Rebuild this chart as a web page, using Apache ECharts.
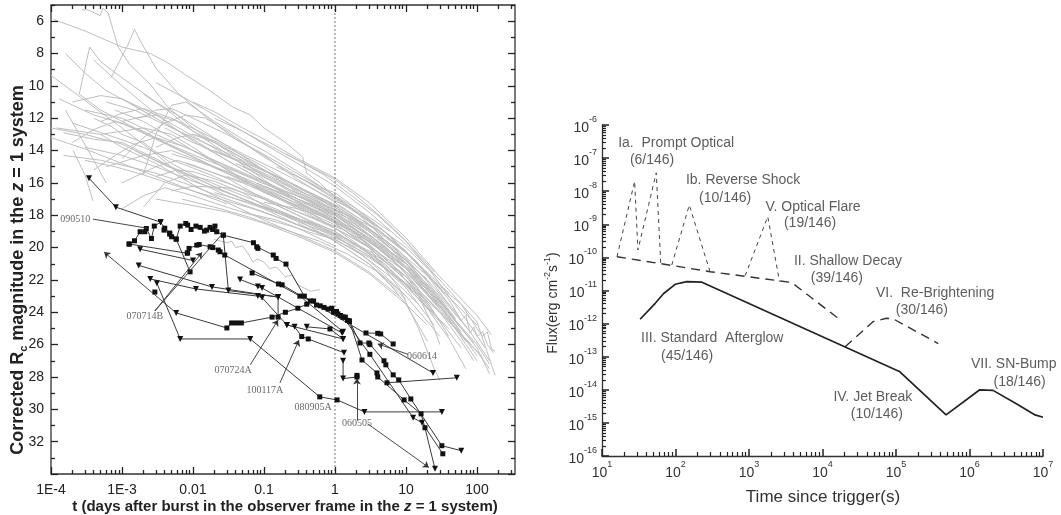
<!DOCTYPE html>
<html><head><meta charset="utf-8">
<script src="https://cdn.jsdelivr.net/npm/echarts@6/dist/echarts.min.js"></script>
<style>html,body{margin:0;padding:0;background:#fff}#c{width:1061px;height:515px}</style>
</head><body><div id="c"></div>
<script>
// ---------------- LEFT PANEL DATA (t in days, corrected Rc magnitude) ----------------
const leftXTickValues = [1e-4, 1e-3, 0.01, 0.1, 1, 10, 100];
const leftXTickLabels = ['1E-4', '1E-3', '0.01', '0.1', '1', '10', '100'];
const leftYTickValues = [5,6,7,8,9,10,11,12,13,14,15,16,17,18,19,20,21,22,23,24,25,26,27,28,29,30,31,32,33,34];
const leftYLabelValues = [6,8,10,12,14,16,18,20,22,24,26,28,30,32];
const minorMultipliers = [2,3,4,5,6,7,8,9];
const leftDecades = [1e-4,1e-3,0.01,0.1,1,10,100];
const dayMark = 1;

const grayCurves = [
 [[1e-4,9.35],[3e-4,10.9],[1e-3,12.6],[3e-3,14.2],[8e-3,15.8]],
 [[2.7e-4,5.3],[3.3e-4,5.3],[4.9e-4,5.65],[5.4e-4,5.2],[6.4e-4,5.5],[8.8e-4,7.6],[1.3e-3,8.7],[2.5e-3,9.9],[4.4e-3,11.3],[0.01,12.6],[0.03,14.0],[0.1,15.6],[0.3,16.8],[1,18.0],[3,19.5],[10,21.5],[30,23.8]],
 [[1.1e-4,5.9],[3e-4,6.6],[1e-3,7.6],[2.5e-3,8.0],[4.3e-3,8.55],[9.1e-3,9.5],[0.016,10.2],[0.027,10.9],[0.036,11.3],[0.064,11.8],[0.1,12.6],[0.2,13.5],[0.35,14.4],[0.4,15.4],[0.61,16.0],[1,16.9],[2,17.8],[5,19.5],[10,20.6],[30,22.4],[60,23.5],[100,25.0],[120,25.5],[140,25.2],[160,26.3],[180,26.4]],
 [[1.5e-4,12.9],[4e-4,13.3],[1e-3,13.5],[3e-3,14.5],[0.01,15.8],[0.03,16.8],[0.1,17.6],[0.3,18.6],[1,19.5],[3,20.6],[10,22.2],[30,24.0],[60,25.4],[120,26.8]],
 [[4e-4,8.4],[1e-3,10.0],[2e-3,11.1],[5e-3,12.5],[0.01,13.4],[0.03,14.6],[0.1,15.9],[0.3,17.0],[1,18.2],[3,19.6],[10,21.3],[30,23.4],[60,25.0]],
 [[7e-4,9.5],[1.2e-3,7.5],[1.5e-3,6.5],[1.8e-3,7.2],[3e-3,8.9],[6e-3,10.4],[0.015,11.9],[0.04,13.3],[0.1,14.3],[0.3,15.8],[1,17.2],[3,18.6],[10,20.3],[40,22.8]],
 [[2.5e-4,10.5],[3.5e-4,7.6],[5e-4,8.5],[1e-3,9.5],[3e-3,11.0],[0.01,12.4],[0.03,13.7],[0.1,15.2],[0.3,16.4],[1,17.7],[3,19.0],[10,20.8],[20,22.0]],
 [[1e-3,14.5],[2e-3,13.2],[4e-3,12.3],[8e-3,11.8],[0.015,12.0],[0.03,12.8],[0.1,14.4],[0.3,15.6],[1,17.0],[3,18.3],[10,20.0],[30,22.0]],
 [[1.2e-4,12.6],[5e-4,13.0],[1e-3,13.8],[3e-3,14.8],[0.01,16.1],[0.03,17.2],[0.1,18.3],[0.3,19.2],[1,20.2],[3,21.5],[8,23.0]],
 [[3e-4,11.5],[1e-3,12.0],[3e-3,13.0],[0.01,14.0],[0.03,15.0],[0.1,16.0],[0.3,17.0],[1,18.0],[3,19.2],[10,21.0],[30,23.0],[80,25.2]],
 [[5e-4,13.0],[1e-3,12.8],[2e-3,12.6],[5e-3,13.0],[0.01,13.8],[0.03,15.2],[0.1,16.6],[0.3,17.5],[1,18.6],[3,19.8],[10,21.8],[25,24.0]],
 [[2e-3,15.5],[3e-3,13.0],[5e-3,11.2],[8e-3,11.0],[0.02,12.2],[0.05,13.3],[0.1,14.0],[0.3,15.3],[1,16.8],[3,18.4],[10,20.3],[30,22.5],[100,24.8]],
 [[1.5e-4,14.3],[5e-4,14.6],[1e-3,14.9],[3e-3,15.4],[0.01,16.2],[0.03,17.0],[0.1,17.8],[0.3,18.6],[1,19.4],[2,20.0]],
 [[6e-4,15.0],[2e-3,14.3],[5e-3,14.0],[0.01,14.5],[0.03,15.4],[0.1,16.5],[0.3,17.6],[1,18.8],[3,20.0],[10,22.0],[20,23.3]],
 [[2.05e-4,14.0],[3e-4,15.5],[3.9e-4,17.1]],
 [[1.6e-4,11.5],[2.5e-4,13.0],[4e-4,14.6],[6e-4,16.0]],
 [[1e-3,16.0],[3e-3,15.0],[6e-3,14.6],[0.01,14.9],[0.03,15.7],[0.1,17.0],[0.3,18.0],[1,19.0],[3,20.3],[10,22.4],[40,25.0]],
 [[2e-3,17.5],[4e-3,16.0],[8e-3,15.5],[0.02,15.9],[0.05,16.6],[0.1,17.4],[0.3,18.3],[1,19.6],[3,21.0],[10,23.0]],
 [[0.02,19.5],[0.03,19.7],[0.035,19.6],[0.04,20.0],[0.05,19.9],[0.06,20.4],[0.07,20.9],[0.08,20.7],[0.1,20.9],[0.12,21.3],[0.15,21.2],[0.2,21.8],[0.25,21.7],[0.3,22.3],[0.45,22.7],[0.61,22.6]],
 [[3e-3,17.0],[0.01,17.4],[0.03,17.8],[0.1,18.5],[0.3,19.3],[1,20.3],[3,21.6],[10,23.5],[20,24.8]],
 [[4e-4,12.0],[7e-4,12.5],[1e-3,13.0],[2e-3,13.5],[5e-3,14.8],[0.01,15.5],[0.03,16.4],[0.1,17.3],[0.3,18.2],[1,19.1],[3,20.2],[10,21.8],[40,24.5],[100,26.4],[150,27.5]],
 [[2e-3,10.5],[5e-3,11.7],[0.01,12.8],[0.03,14.2],[0.1,15.8],[0.3,17.2],[1,18.5],[3,20.0],[10,22.0],[20,23.6]],
 [[8e-4,11.5],[2e-3,12.2],[5e-3,13.2],[0.01,14.0],[0.05,15.7],[0.1,16.4],[0.5,18.0],[1,18.8],[5,21.0],[15,23.0],[40,25.6],[70,27.5]],
 [[0.01,13.0],[0.02,13.4],[0.05,14.3],[0.1,15.0],[0.3,16.3],[1,17.5],[3,19.0],[10,20.8],[30,23.2],[50,24.5]],
 [[0.04,14.8],[0.1,15.5],[0.3,16.5],[1,17.8],[3,19.3],[10,21.3],[20,22.8]],
 [[0.1,17.2],[0.3,17.6],[1,18.3],[2,19.2],[5,20.8],[10,22.0],[30,24.5],[60,26.2]],
 [[0.2,18.0],[0.5,18.5],[1,19.0],[3,20.4],[10,22.5],[25,24.8]],
 [[0.3,15.6],[0.6,16.3],[1,16.6],[2,17.6],[5,19.0],[10,20.3],[20,21.6],[40,23.2],[60,24.5],[70,24.2],[80,25.3],[90,24.9],[100,25.5],[120,25.2],[140,26.0],[170,26.5]],
 [[0.5,17.5],[1,18.1],[3,19.8],[10,21.8],[30,24.0],[60,25.8],[90,27.0]],
 [[1e-3,10.8],[3e-3,12.0],[0.01,13.3],[0.03,14.6],[0.1,15.9],[0.3,17.2],[1,18.4],[3,19.6],[10,21.5]],
 [[3e-4,13.8],[1e-3,14.3],[3e-3,15.0],[0.01,15.9],[0.03,16.6],[0.1,17.5],[0.3,18.2],[1,19.3],[3,20.5],[6,21.5]],
 [[5e-3,16.5],[0.01,16.2],[0.03,16.3],[0.1,17.0],[0.3,18.0],[1,19.2],[3,20.8],[10,23.0],[30,25.5]],
 [[0.02,12.0],[0.05,12.8],[0.1,13.6],[0.3,14.8],[1,16.2],[3,17.8],[10,19.8],[30,22.0],[100,24.6],[180,27.9]],
 [[1.5e-3,12.0],[3e-3,11.8],[6e-3,12.2],[0.01,12.8],[0.03,13.9],[0.1,15.2],[0.3,16.6],[1,17.9],[3,19.2],[10,21.0],[30,23.4]],
 [[0.08,16.0],[0.2,16.8],[0.5,17.5],[1,18.0],[2,18.9],[5,20.3],[10,21.6],[25,24.0],[40,25.5]],
 [[2e-4,12.3],[6e-4,13.0],[2e-3,13.8],[6e-3,14.7],[0.02,15.6],[0.06,16.6],[0.2,17.5],[0.6,18.3],[1.5,19.0]],
 [[5e-3,14.2],[0.02,15.0],[0.06,15.8],[0.2,16.8],[0.6,17.8],[1.5,18.8],[4,20.0],[12,21.8],[30,23.8]],
 [[3e-3,15.6],[6e-3,15.2],[0.01,15.3],[0.03,16.0],[0.1,16.9],[0.3,17.8],[1,18.8],[3,19.9],[10,21.5],[30,23.6],[50,24.8]],
 [[1e-3,17.6],[2e-3,16.8],[4e-3,16.3],[0.01,16.8],[0.03,17.5],[0.1,18.2],[0.3,18.8],[1,19.9]],
 [[4e-4,15.2],[8e-4,14.3],[1.5e-3,13.6],[3e-3,13.2],[8e-3,13.8],[0.02,14.6],[0.06,15.5],[0.2,16.5],[0.6,17.4],[2,18.4],[6,19.8],[20,22.0],[50,24.0]],
 [[2.5e-4,10.5],[5e-4,11.5],[1.5e-3,12.6],[4e-3,13.5],[0.012,14.4],[0.04,15.3],[0.12,16.2],[0.4,17.0],[1.2,17.8],[4,18.9],[12,20.6],[35,22.9]],
 [[1.6e-4,8.0],[3e-4,9.2],[6e-4,10.3],[1.2e-3,11.0],[3e-3,12.0]],
 [[0.15,15.0],[0.4,15.9],[1,16.9],[2.5,18.0],[6,19.3],[15,21.0],[40,23.5],[80,25.2],[150,27.0]],
 [[0.05,17.8],[0.15,18.3],[0.4,19.0],[1,19.5],[2.5,20.5],[6,21.8],[15,23.5]],
 [[1e-4,12.6],[3e-4,13.0],[1e-3,13.6],[3e-3,14.6],[0.01,15.6],[0.03,16.6],[0.1,17.5],[0.3,18.4],[1,19.3],[3,20.5],[10,22.3],[30,24.6]],
 [[1e-4,13.2],[3e-4,13.9],[1e-3,14.8],[3e-3,15.6],[0.01,16.5],[0.03,17.3]],
 [[1.3e-4,10.8],[4e-4,11.8],[1e-3,12.3],[3e-3,13.3],[0.01,14.4],[0.03,15.4],[0.1,16.3],[0.3,17.3],[1,18.3],[3,19.5],[10,21.2],[30,23.5],[60,25.2]],
 [[2e-4,13.5],[4e-4,12.7],[8e-4,12.2],[2e-3,12.8],[6e-3,13.9],[0.02,15.0],[0.06,16.0],[0.2,17.1],[0.6,18.0],[2,19.1],[6,20.6],[15,22.5]],
 [[3e-3,13.8],[6e-3,13.2],[0.01,13.0],[0.02,13.5],[0.05,14.5],[0.1,15.2],[0.3,16.2],[1,17.6],[3,19.2],[10,21.2],[30,23.8],[70,25.8]],
 [[0.01,11.0],[0.02,11.6],[0.05,12.6],[0.1,13.3],[0.3,14.5],[1,15.7],[3,17.2],[10,19.4],[30,21.8],[100,24.2],[160,25.4]],
 [[8e-3,14.8],[0.02,15.4],[0.05,16.0],[0.15,16.9],[0.4,17.6],[1,18.4],[3,19.8],[8,21.5],[15,23.0],[25,25.0],[30,26.0]],
 [[1,18.5],[3,20.0],[8,22.5],[15,25.0],[25,27.5],[30,28.2]],
 [[0.3,18.5],[1,19.6],[3,21.0],[6,22.3],[10,23.5],[15,24.8],[20,25.8]],
 [[0.05,15.0],[0.2,16.3],[0.6,17.2],[1.5,18.0],[4,19.2],[10,20.8],[25,22.8],[50,24.5],[100,26.0],[150,27.2]],
 [[4e-3,12.6],[0.01,13.5],[0.04,14.6],[0.1,15.4],[0.4,16.7],[1,17.5],[3,18.8],[8,20.2],[20,22.1],[50,24.4]],
 [[6e-4,11.0],[1.5e-3,11.5],[4e-3,12.4],[0.01,13.2],[0.04,14.4],[0.12,15.4],[0.4,16.5],[1.2,17.5],[4,18.9],[10,20.2]],
 [[0.02,14.0],[0.05,14.7],[0.15,15.6],[0.5,16.7],[1.2,17.6],[3,18.8],[8,20.5],[20,22.4],[45,24.3],[90,25.9]],
 [[1.5e-3,14.0],[4e-3,14.9],[0.012,15.8],[0.04,16.8],[0.12,17.7],[0.4,18.5],[1,19.2],[2,19.9]],
 [[0.1,16.2],[0.3,17.0],[0.8,17.7],[2,18.6],[5,19.9],[12,21.5],[30,23.6],[60,25.3],[100,26.7]],
 [[5e-4,12.2],[1e-3,11.7],[2e-3,11.4],[5e-3,12.0],[0.015,13.0],[0.05,14.2],[0.15,15.2],[0.5,16.4],[1.5,17.5],[5,19.0],[15,21.0]],
 [[3e-4,14.6],[8e-4,15.0],[2e-3,15.5],[6e-3,16.2],[0.02,16.9],[0.07,17.6],[0.2,18.3],[0.5,19.0]],
 [[0.02,16.6],[0.06,17.2],[0.2,17.9],[0.6,18.7],[1.5,19.5],[4,20.7],[10,22.3],[20,23.8]],
 [[0.5,16.8],[1,17.4],[2,18.2],[5,19.7],[10,21.0],[20,22.6],[40,24.4],[70,26.0],[100,27.0]],
 [[3e-3,9.8],[8e-3,10.8],[0.02,11.8],[0.05,12.8],[0.12,13.7],[0.3,14.6],[0.7,15.5],[1.5,16.6],[4,18.0],[10,19.6],[25,21.5]],
 [[1e-3,12.2],[2e-3,11.9],[3e-3,11.5],[5e-3,11.4],[0.01,12.0],[0.03,13.0],[0.08,14.0],[0.2,15.0],[0.6,16.2],[2,17.6],[6,19.0]],
 [[0.2,14.2],[0.5,15.1],[1,15.8],[2,16.8],[5,18.3],[10,19.6],[20,21.2],[40,23.0],[80,24.8],[130,26.2]],
 [[7e-3,17.0],[0.02,17.5],[0.06,18.1],[0.2,18.9],[0.6,19.6],[1.5,20.4],[4,21.5],[10,23.2]],
 [[2e-4,11.0],[5e-4,10.6],[1e-3,10.8],[3e-3,11.8],[0.01,13.1],[0.03,14.3],[0.1,15.5],[0.3,16.7],[1,18.0],[3,19.4],[10,21.3],[30,23.7]],
 [[0.03,15.6],[0.1,16.4],[0.3,17.3],[1,18.2],[3,19.4],[10,21.0],[30,23.3],[60,25.0],[100,26.2],[150,27.8]]
];

// [t, mag, limit] : limit 1 = upper limit (down triangle), 0 = detection (square)
const blackCurves = [
 [[3.43e-4,15.71,1],[8.2e-4,17.5,1],[3.5e-3,18.43,1],[4.0e-3,18.8,0],[4.7e-3,19.1,0],[5.8e-3,19.47,0],[9.1e-3,21.5,0]],
 [[1.26e-3,19.78,0],[1.5e-3,19.58,0],[1.8e-3,19.02,0],[2.1e-3,19.02,0],[2.2e-3,18.82,0],[2.6e-3,19.44,0],[2.85e-3,18.67,0],[3.5e-3,18.43,1]],
 [[3.9e-3,18.92,0],[4.7e-3,19.17,0],[5.0e-3,19.33,0],[5.8e-3,19.48,0],[6.6e-3,18.67,0],[7.9e-3,18.51,0],[8.4e-3,18.61,0],[9.4e-3,18.88,0],[0.011,18.67,0],[0.0126,18.75,0],[0.0145,18.98,0],[0.0156,18.92,0],[0.0174,18.75,0],[0.0189,18.88,0],[0.0204,18.67,0],[0.0216,19.02,0],[0.0267,19.23,0],[0.071,19.7,0],[0.079,19.95,0],[0.082,20.05,0],[0.135,20.46,0],[0.148,20.67,0],[0.204,21.02,0],[0.37,23.0,0],[0.45,23.3,0],[0.55,23.55,0],[0.62,23.6,0],[0.7,23.7,0],[0.8,23.8,0],[0.9,23.75,0],[0.95,24.0,0],[1.05,23.95,0],[1.1,24.1,0],[1.2,24.2,0],[1.3,24.3,0],[1.4,24.3,0],[1.5,24.5,0],[1.6,24.55,0]],
 [[0.0267,19.23,0],[0.0315,22.66,1],[0.158,23.06,1],[0.158,24.3,0]],
 [[8.4e-3,20.32,0],[8.8e-3,20.05,0],[0.0113,19.85,0],[0.0122,19.81,0],[0.0174,19.95,0],[0.019,20.0,0],[0.0227,20.15,0],[0.024,20.26,0],[0.028,20.46,0],[0.32,23.0,0],[1.3,25.2,1]],
 [[1.8e-3,20.1,1],[0.01,20.8,1]],
 [[1.26e-3,19.78,0],[8.3e-3,20.35,0]],
 [[1.72e-3,21.1,1],[0.0185,22.43,1],[0.158,23.06,1]],
 [[2.5e-3,21.94,1],[0.011,22.56,1],[0.082,23.0,1],[0.094,23.1,1],[0.21,24.78,1],[1.3,25.65,1]],
 [[3.1e-3,22.2,1],[6.6e-3,25.65,1],[0.064,25.65,1],[0.61,29.23,0],[1.07,29.42,0],[2.6,30.16,1],[32,30.16,1]],
 [[5.8e-3,24.04,1],[0.03,24.97,0],[0.035,24.66,0],[0.041,24.66,0],[0.048,24.66,0],[0.13,24.3,0],[0.2,24.0,0],[0.3,23.75,0],[0.4,23.5,0],[0.5,23.3,0]],
 [[2.9e-3,22.75,0]],
 [[0.068,21.57,0],[0.16,22.25,0],[0.18,22.3,0],[24,27.75,1]],
 [[0.046,21.97,1],[0.082,22.4,1],[0.094,22.5,1],[1.26,25.28,1]],
 [[0.21,24.78,1],[0.27,24.9,1],[0.34,25.5,0],[0.42,25.65,0],[1.34,26.5,1]],
 [[2.73,25.28,0],[4.0,25.3,0],[4.4,25.34,0],[6.6,25.96,0]],
 [[1.6,24.55,0],[2.25,25.9,0],[3.0,25.9,0],[3.1,26.0,0],[4.9,27.0,0],[5.2,27.25,0],[6.6,27.87,0],[7.9,28.18,0],[11.7,29.36,0],[32,32.25,0],[60,32.56,1]],
 [[1.6,24.55,0],[2.4,26.95,0],[3.9,27.75,0],[4.0,28.0,0],[9.4,29.42,0],[16.3,30.28,0],[18.5,31.14,0],[25.6,33.68,1]],
 [[1.3,24.3,0],[3.1,26.6,0],[12.6,30.52,1],[16.8,30.83,1],[33,32.75,0]],
 [[1.3,27.0,1],[1.3,28.1,1],[2.04,28.0,0],[2.04,27.9,0]],
 [[5.4,28.36,0],[52,28.05,1]],
 [[0.4,24.9,1],[0.85,25.03,0],[1.3,25.65,1]]
];

// leader lines [from, to]
const arrowLeaders = [
 [[5.8e-3,24.04],[5.6e-4,20.28]],
 [[2.9e-3,23.92],[0.0134,20.3]],
 [[0.064,27.25],[0.158,24.48]],
 [[0.168,28.36],[0.31,25.72]],
 [[2.04,30.7],[2.04,28.1]],
 [[2.9,30.9],[21,33.6]],
 [[10.7,26.6],[4.0,25.96]]
];
const plainLeaders = [
 [[3.9e-4,18.24],[2.25e-3,18.8]],
 [[2.9e-3,23.92],[0.0265,19.1]]
];
const grbLabels = [
 [2.2e-4,18.24,'090510'],
 [2.1e-3,24.23,'070714B'],
 [0.0366,27.62,'070724A'],
 [0.103,28.8,'100117A'],
 [0.49,29.85,'080905A'],
 [2.04,30.87,'060505'],
 [16.8,26.7,'060614']
];

// ---------------- RIGHT PANEL DATA (time s, flux erg cm^-2 s^-1) ----------------
const rightDecadesX = [10,100,1e3,1e4,1e5,1e6];
const rightDecadesY = [1e-16,1e-15,1e-14,1e-13,1e-12,1e-11,1e-10,1e-9,1e-8,1e-7];
const shallowDecay = [[16,1.05e-10],[94,5.6e-11],[295,3.7e-11],[2630,1.95e-11],[3800,1.75e-11],[17400,1.3e-12]];
const promptOptical = [[16,1.05e-10],[27.8,2.0e-8],[30.8,1.67e-10],[54.7,3.6e-8],[63,6.6e-11]];
const reverseShock = [[89,5.9e-11],[154,3.8e-9],[295,3.7e-11]];
const opticalFlare = [[887,2.8e-11],[1800,1.7e-9],[2600,1.86e-11]];
const standardAfterglow = [[33,1.35e-12],[53,4.1e-12],[69,8.1e-12],[99,1.54e-11],[143,1.86e-11],[229,1.78e-11],[1.13e5,3.5e-14],[4.8e5,1.74e-15],[1.38e6,1e-14],[2.09e6,9.6e-15],[4.4e6,3.7e-15],[7.8e6,1.74e-15],[1e7,1.48e-15]];
const reBrightening = [[2.03e4,2e-13],[4.9e4,1.15e-12],[7.4e4,1.45e-12],[9.1e4,1.4e-12],[3.76e5,2.5e-13]];
const phaseLabels = [
 [102,2.9e-7,'Ia.  Prompt Optical'],
 [48,8.8e-8,'(6/146)'],
 [832,2.2e-8,'Ib. Reverse Shock'],
 [473,6.2e-9,'(10/146)'],
 [7430,3.3e-9,'V. Optical Flare'],
 [6760,1.1e-9,'(19/146)'],
 [22200,7.8e-11,'II. Shallow Decay'],
 [15700,2.4e-11,'(39/146)'],
 [3.4e5,8.3e-12,'VI.  Re-Brightening'],
 [2.25e5,2.6e-12,'(30/146)'],
 [316,3.7e-13,'III. Standard  Afterglow'],
 [144,1.05e-13,'(45/146)'],
 [48400,6.0e-15,'IV. Jet Break'],
 [55000,1.86e-15,'(10/146)'],
 [4.0e6,6.0e-14,'VII. SN-Bump'],
 [4.8e6,1.74e-14,'(18/146)']
];

// ---------------- BUILD ----------------
const L = {xmin:1e-4, xmax:343, ymin:5, ymax:34};
const R = {xmin:10, xmax:1e7, ymin:1e-16, ymax:1e-6};
const GL = {left:51, right:546, top:5, bottom:41};
const GR = {left:602, right:18, top:125, bottom:59};
const W = 1061, H = 515;
const SANS = 'Liberation Sans, Arial, Helvetica, sans-serif';
const SERIF = 'Liberation Serif, Times New Roman, serif';
const INK = '#222';

// axis scale factors (pixels per data unit), used only to give tick marks a fixed pixel length
const lPxPerDecade = (W - GL.left - GL.right) / Math.log10(L.xmax / L.xmin);
const lPxPerMag = (H - GL.top - GL.bottom) / (L.ymax - L.ymin);
const rPxPerDecadeX = (W - GR.left - GR.right) / Math.log10(R.xmax / R.xmin);
const rPxPerDecadeY = (H - GR.top - GR.bottom) / Math.log10(R.ymax / R.ymin);

const leftXMinor = [];
leftDecades.forEach(d => minorMultipliers.forEach(m => { if (d*m < L.xmax) leftXMinor.push(d*m); }));
const rightXMinor = [];
rightDecadesX.forEach(d => minorMultipliers.forEach(m => rightXMinor.push(d*m)));
const rightYMinor = [];
rightDecadesY.forEach(d => minorMultipliers.forEach(m => rightYMinor.push(d*m)));

function sameLog(a, b){ return Math.abs(Math.log10(a) - Math.log10(b)) < 1e-6; }

// tick segments (data coordinates) for 'lines' series
const MAJ = 7, MIN = 4;
const leftTicks = [];
leftXTickValues.forEach(v => {
  leftTicks.push({coords:[[v, L.ymax],[v, L.ymax - MAJ/lPxPerMag]]});
  leftTicks.push({coords:[[v, L.ymin],[v, L.ymin + MAJ/lPxPerMag]]});
});
leftXMinor.forEach(v => {
  leftTicks.push({coords:[[v, L.ymax],[v, L.ymax - MIN/lPxPerMag]]});
  leftTicks.push({coords:[[v, L.ymin],[v, L.ymin + MIN/lPxPerMag]]});
});
leftYTickValues.forEach(m => {
  const len = (m % 2 === 0 ? MAJ : MIN) / lPxPerDecade;
  leftTicks.push({coords:[[L.xmin, m],[L.xmin * Math.pow(10, len), m]]});
  leftTicks.push({coords:[[L.xmax, m],[L.xmax / Math.pow(10, len), m]]});
});
const rightTicks = [];
rightXMinor.forEach(v => rightTicks.push({coords:[[v, R.ymin],[v, R.ymin * Math.pow(10, MIN/rPxPerDecadeY)]]}));
rightYMinor.forEach(v => rightTicks.push({coords:[[R.xmin, v],[R.xmin * Math.pow(10, MIN/rPxPerDecadeX), v]]}));

const series = [];
grayCurves.forEach(c => series.push({
  type:'line', xAxisIndex:0, yAxisIndex:0, data:c, symbol:'none', silent:true,
  lineStyle:{color:'#bfbfbf', width:1}, z:1
}));
series.push({type:'line', xAxisIndex:0, yAxisIndex:0, data:[[dayMark,L.ymin],[dayMark,L.ymax]], symbol:'none', silent:true,
  lineStyle:{color:'#777', width:1, type:[2,2]}, z:2});
blackCurves.forEach(c => series.push({
  type:'line', xAxisIndex:0, yAxisIndex:0, silent:true, showSymbol:true,
  data:c.map(p => ({value:[p[0],p[1]], symbol:p[2]?'triangle':'rect', symbolRotate:p[2]?180:0, symbolSize:p[2]?6:5})),
  lineStyle:{color:'#3a3a3a', width:1}, itemStyle:{color:'#111'}, z:3
}));
series.push({type:'lines', coordinateSystem:'cartesian2d', xAxisIndex:0, yAxisIndex:0, silent:true,
  data:arrowLeaders.map(l => ({coords:l})), symbol:['none','arrow'], symbolSize:6,
  lineStyle:{color:'#333', width:0.9, opacity:1}, z:4});
series.push({type:'lines', coordinateSystem:'cartesian2d', xAxisIndex:0, yAxisIndex:0, silent:true,
  data:plainLeaders.map(l => ({coords:l})), symbol:['none','none'],
  lineStyle:{color:'#333', width:0.9, opacity:1}, z:4});
series.push({type:'scatter', xAxisIndex:0, yAxisIndex:0, silent:true,
  data:grbLabels.map(l => ({value:[l[0],l[1]], name:l[2]})), symbolSize:1, itemStyle:{color:'rgba(0,0,0,0)'},
  label:{show:true, position:'inside', formatter:'{b}', fontFamily:SERIF, fontSize:10, color:'#444'}, z:5});
series.push({type:'lines', coordinateSystem:'cartesian2d', xAxisIndex:0, yAxisIndex:0, silent:true, clip:false,
  data:leftTicks, symbol:['none','none'], lineStyle:{color:INK, width:1.3, opacity:1}, z:20});

// right panel
const rl = (data, dash, w, color) => ({type:'line', xAxisIndex:1, yAxisIndex:1, data, symbol:'none', silent:true,
  lineStyle:{color:color||'#333', width:w, type:dash}, z:3});
series.push(rl(promptOptical, [4,4], 1, '#444'));
series.push(rl(reverseShock, [4,4], 1, '#444'));
series.push(rl(opticalFlare, [4,4], 1, '#444'));
series.push(rl(shallowDecay, [9,6], 1.4));
series.push(rl(reBrightening, [9,6], 1.4));
series.push(rl(standardAfterglow, 'solid', 1.7, '#222'));
series.push({type:'scatter', xAxisIndex:1, yAxisIndex:1, silent:true,
  data:phaseLabels.map(l => ({value:[l[0],l[1]], name:l[2]})), symbolSize:1, itemStyle:{color:'rgba(0,0,0,0)'},
  label:{show:true, position:'inside', formatter:'{b}', fontFamily:SANS, fontSize:14, color:'#333'}, z:5});
series.push({type:'lines', coordinateSystem:'cartesian2d', xAxisIndex:1, yAxisIndex:1, silent:true, clip:false,
  data:rightTicks, symbol:['none','none'], lineStyle:{color:INK, width:1.2, opacity:1}, z:20});

const powRich = {
  b:{fontSize:14, fontFamily:SANS, color:'#333', verticalAlign:'bottom', lineHeight:20},
  s:{fontSize:9, fontFamily:SANS, color:'#333', verticalAlign:'top', lineHeight:20}
};
const powLabel = v => '{b|10}{s|' + Math.round(Math.log10(v)) + '}';

const titles = [
    {type:'text', x:18, y:270, rotation:Math.PI/2, silent:true,
     style:{text:'Corrected R{sub|c} magnitude in the {it|z} = 1 system', fontSize:18, fontWeight:'bold', fontFamily:SANS, fill:'#222',
       align:'center', verticalAlign:'middle', lineHeight:22,
       rich:{sub:{fontSize:11, fontWeight:'bold', fontFamily:SANS, verticalAlign:'bottom', lineHeight:22, fill:'#222'},
             it:{fontSize:18, fontWeight:'bold', fontStyle:'italic', fontFamily:SANS, fill:'#222', lineHeight:22}}}},
    {type:'text', x:285, y:507, silent:true,
     style:{text:'t (days after burst in the observer frame in the {it|z} = 1 system)', fontSize:15, fontWeight:'bold', fontFamily:SANS, fill:'#222',
       align:'center', verticalAlign:'middle', lineHeight:18,
       rich:{it:{fontSize:15, fontWeight:'bold', fontStyle:'italic', fontFamily:SANS, fill:'#222', lineHeight:18}}}},
    {type:'text', x:823, y:497, silent:true,
     style:{text:'Time since trigger(s)', fontSize:17, fontFamily:SANS, fill:'#333', align:'center', verticalAlign:'middle'}},
    {type:'text', x:553, y:303, rotation:Math.PI/2, silent:true,
     style:{text:'Flux(erg cm{s|-2}s{s|-1})', fontSize:14, fontFamily:SANS, fill:'#333', align:'center', verticalAlign:'middle', lineHeight:20,
       rich:{s:{fontSize:9, fontFamily:SANS, fill:'#333', verticalAlign:'top', lineHeight:20}}}}
];

const option = {
  animation:false,
  backgroundColor:'#fff',
  grid:[
    {left:GL.left, right:GL.right, top:GL.top, bottom:GL.bottom, show:true, borderColor:'#333', borderWidth:1.3, backgroundColor:'transparent'},
    {left:GR.left, right:GR.right, top:GR.top, bottom:GR.bottom}
  ],
  xAxis:[
    {type:'log', gridIndex:0, min:L.xmin, max:L.xmax, interval:1, logBase:10,
     axisLine:{show:false}, axisTick:{show:false}, splitLine:{show:false},
     axisLabel:{margin:9, fontSize:14, fontFamily:SANS, color:'#222', hideOverlap:false,
       formatter:v => { const i = leftXTickValues.findIndex(t => sameLog(t, v)); return i >= 0 ? leftXTickLabels[i] : ''; }}},
    {type:'log', gridIndex:1, min:R.xmin, max:R.xmax, interval:1, logBase:10,
     axisLine:{show:true, onZero:false, lineStyle:{color:'#333', width:1.3}},
     axisTick:{show:true, inside:true, length:7, lineStyle:{color:INK, width:1.5}}, splitLine:{show:false},
     axisLabel:{margin:4, formatter:powLabel, rich:powRich, hideOverlap:false}}
  ],
  yAxis:[
    {type:'value', gridIndex:0, inverse:true, min:L.ymin, max:L.ymax, interval:1,
     axisLine:{show:false}, axisTick:{show:false}, splitLine:{show:false},
     axisLabel:{margin:7, fontSize:14, fontFamily:SANS, color:'#222', hideOverlap:false,
       formatter:v => leftYLabelValues.indexOf(v) >= 0 ? String(v) : ''}},
    {type:'log', gridIndex:1, min:R.ymin, max:R.ymax, interval:1, logBase:10,
     axisLine:{show:true, onZero:false, lineStyle:{color:'#333', width:1.3}},
     axisTick:{show:true, inside:true, length:7, lineStyle:{color:INK, width:1.5}}, splitLine:{show:false},
     axisLabel:{margin:5, formatter:powLabel, rich:powRich, hideOverlap:false}}
  ],
  graphic:titles,
  series
};
const chart = echarts.init(document.getElementById('c'));
chart.setOption(option);
</script></body></html>
